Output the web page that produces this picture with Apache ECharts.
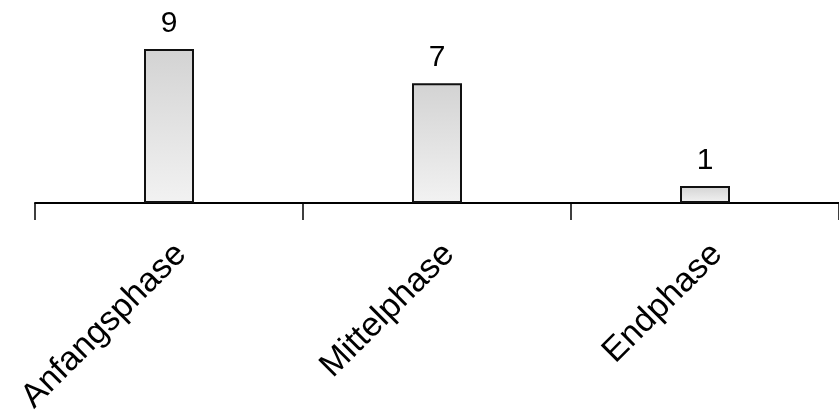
<!DOCTYPE html>
<html><head><meta charset="utf-8">
<script src="https://cdn.jsdelivr.net/npm/echarts@6/dist/echarts.min.js"></script>
<style>html,body{margin:0;padding:0;background:#fff}#c{width:839px;height:412px}</style>
</head><body><div id="c"></div>
<script>
const categories = ["Anfangsphase", "Mittelphase", "Endphase"];
const values = [9, 7, 1];

const chart = echarts.init(document.getElementById('c'), null, {renderer: 'canvas'});
chart.setOption({
  animation: false,
  grid: {left: 35, right: 0, top: 49, bottom: 209, containLabel: false, outerBoundsMode: 'none'},
  xAxis: {
    type: 'category',
    data: categories,
    axisLine: {lineStyle: {color: '#000', width: 2}},
    axisTick: {show: true, length: 17, lineStyle: {color: '#000', width: 1.5}},
    axisLabel: {rotate: 45, fontSize: 34, color: '#000', fontFamily: 'Liberation Sans, Arial', margin: 34, verticalAlign: 'top'}
  },
  yAxis: {type: 'value', min: 0, max: 9, show: false, splitLine: {show: false}},
  series: [{
    type: 'bar',
    data: values,
    barWidth: 50,
    itemStyle: {
      color: new echarts.graphic.LinearGradient(0, 0, 0, 1, [
        {offset: 0, color: '#d3d3d3'},
        {offset: 1, color: '#f2f2f2'}
      ]),
      borderColor: '#111',
      borderWidth: 2
    },
    label: {show: true, position: 'top', distance: 10, fontSize: 30, color: '#000', fontFamily: 'Liberation Sans, Arial'}
  }]
});
</script></body></html>
